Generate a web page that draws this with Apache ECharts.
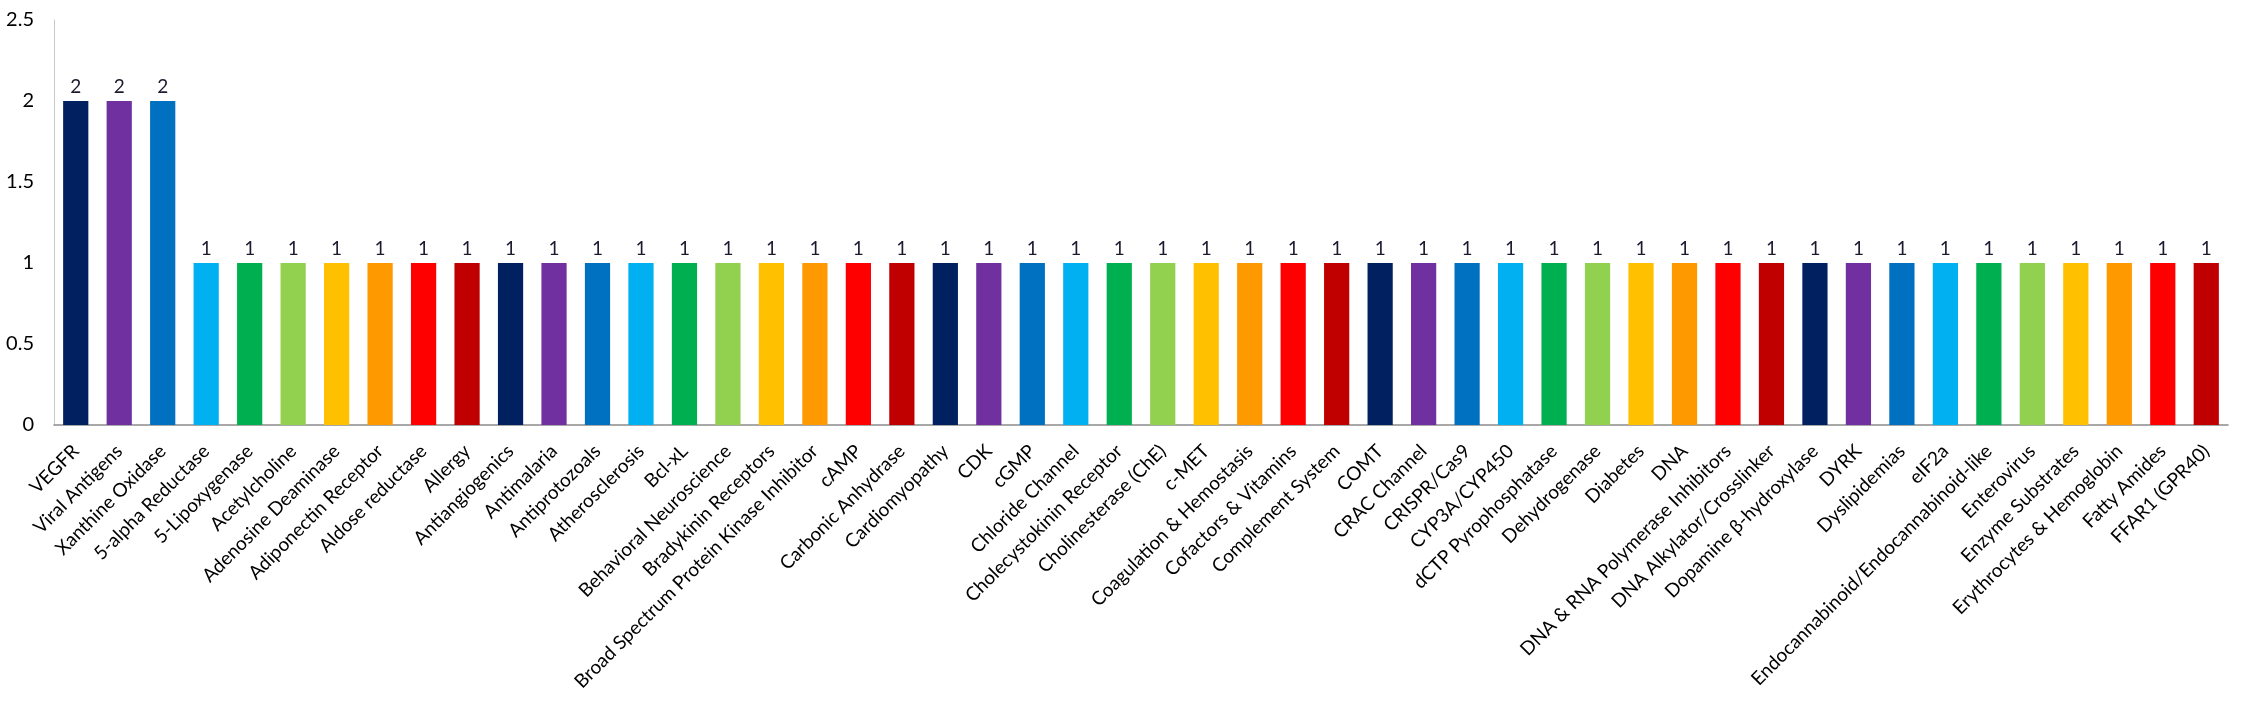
<!DOCTYPE html>
<html>
<head>
<meta charset="utf-8">
<script src="https://cdn.jsdelivr.net/npm/echarts@6/dist/echarts.min.js"></script>
<style>
  html, body { margin: 0; padding: 0; background: #ffffff; }
  #chart { width: 2243px; height: 710px; }
</style>
</head>
<body>
<div id="chart"></div>
<script>
const categories = [
  "VEGFR", "Viral Antigens", "Xanthine Oxidase", "5-alpha Reductase", "5-Lipoxygenase",
  "Acetylcholine", "Adenosine Deaminase", "Adiponectin Receptor", "Aldose reductase", "Allergy",
  "Antiangiogenics", "Antimalaria", "Antiprotozoals", "Atherosclerosis", "Bcl-xL",
  "Behavioral Neuroscience", "Bradykinin Receptors", "Broad Spectrum Protein Kinase Inhibitor", "cAMP", "Carbonic Anhydrase",
  "Cardiomyopathy", "CDK", "cGMP", "Chloride Channel", "Cholecystokinin Receptor",
  "Cholinesterase (ChE)", "c-MET", "Coagulation & Hemostasis", "Cofactors & Vitamins", "Complement System",
  "COMT", "CRAC Channel", "CRISPR/Cas9", "CYP3A/CYP450", "dCTP Pyrophosphatase",
  "Dehydrogenase", "Diabetes", "DNA", "DNA & RNA Polymerase Inhibitors", "DNA Alkylator/Crosslinker",
  "Dopamine β-hydroxylase", "DYRK", "Dyslipidemias", "eIF2a", "Endocannabinoid/Endocannabinoid-like",
  "Enterovirus", "Enzyme Substrates", "Erythrocytes & Hemoglobin", "Fatty Amides", "FFAR1 (GPR40)"
];
const values = [
  2, 2, 2, 1, 1, 1, 1, 1, 1, 1,
  1, 1, 1, 1, 1, 1, 1, 1, 1, 1,
  1, 1, 1, 1, 1, 1, 1, 1, 1, 1,
  1, 1, 1, 1, 1, 1, 1, 1, 1, 1,
  1, 1, 1, 1, 1, 1, 1, 1, 1, 1
];
const yTicks = { min: 0, max: 2.5, interval: 0.5 };
const palette = ["#002060", "#7030A0", "#0070C0", "#00B0F0", "#00B050",
                 "#92D050", "#FFC000", "#FF9900", "#FF0000", "#C00000"];

const FONT = "Lato";
const chart = echarts.init(document.getElementById('chart'), null, { renderer: 'canvas' });
chart.setOption({
  animation: false,
  backgroundColor: '#ffffff',
  color: palette,
  grid: { left: 54, right: 15, top: 20, bottom: 285, containLabel: false },
  xAxis: {
    type: 'category',
    data: categories,
    axisLine: { show: true, lineStyle: { color: '#8c8c8c', width: 1.5 } },
    axisTick: { show: false },
    axisLabel: {
      interval: 0,
      rotate: 45,
      margin: 23,
      color: '#000000',
      fontFamily: FONT,
      fontSize: 19
    }
  },
  yAxis: {
    type: 'value',
    min: yTicks.min,
    max: yTicks.max,
    interval: yTicks.interval,
    axisLine: { show: true, lineStyle: { color: '#c8c8c8', width: 1 } },
    axisTick: { show: false },
    splitLine: { show: false },
    axisLabel: {
      margin: 20,
      color: '#000000',
      fontFamily: FONT,
      fontSize: 20
    }
  },
  series: [{
    type: 'bar',
    data: values,
    colorBy: 'data',
    barCategoryGap: '42%',
    label: {
      show: true,
      position: 'top',
      distance: 5,
      color: '#1a1a2e',
      fontFamily: FONT,
      fontSize: 19
    }
  }]
});
</script>
</body>
</html>
